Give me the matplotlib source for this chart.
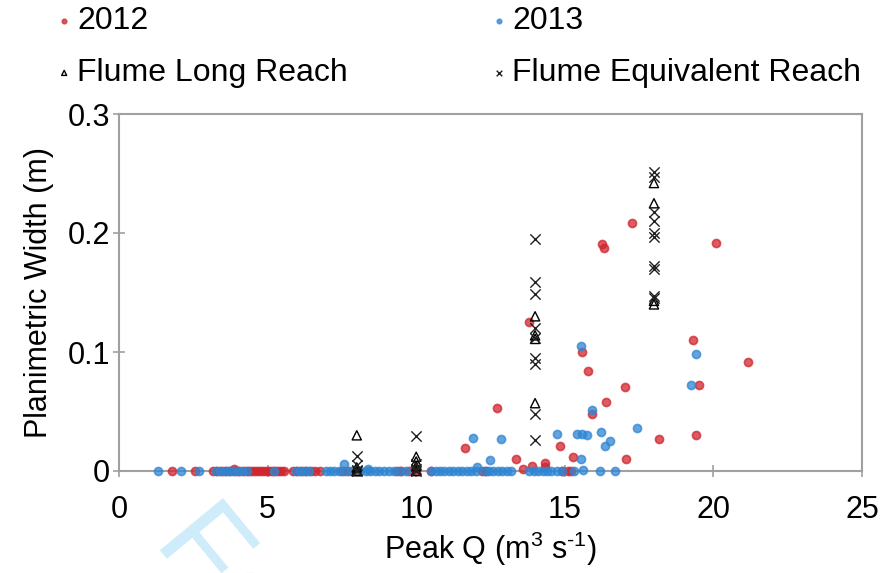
import matplotlib
matplotlib.use("Agg")
import matplotlib.pyplot as plt

plt.rcParams["font.family"] = ["Liberation Sans", "DejaVu Sans"]
plt.rcParams["mathtext.fontset"] = "custom"
plt.rcParams["mathtext.rm"] = "Liberation Sans"

# 2012 survey: peak discharge (m3/s) and planimetric width (m)
q_2012 = [1.8, 2.55, 3.15, 3.3, 3.45, 3.6, 3.75, 3.9, 4.05, 4.2, 4.35, 4.45,
          4.55, 4.65, 4.75, 4.85, 4.95, 5.05, 5.15, 5.25, 5.35, 5.45, 5.55,
          5.85, 6.0, 6.15, 6.3, 6.45, 6.6, 6.75, 7.5, 7.7, 8.0, 9.35, 9.5,
          9.75, 10.0, 10.5, 12.2, 12.35, 14.9, 15.1, 15.2,
          3.86, 11.65, 12.72, 13.37, 13.6, 13.9, 14.34, 14.34, 14.84, 15.27,
          15.92, 16.39, 17.05, 17.25, 16.25, 16.31, 13.81, 15.58, 15.79,
          17.04, 20.09, 19.32, 21.17, 19.53, 18.16, 19.41]
w_2012 = [0.0] * 43 + [
          0.002, 0.019, 0.053, 0.010, 0.002, 0.004, 0.007, 0.003, 0.021, 0.012,
          0.048, 0.058, 0.010, 0.208, 0.191, 0.187, 0.125, 0.100, 0.084,
          0.071, 0.192, 0.110, 0.092, 0.072, 0.027, 0.030]

# 2013 survey
q_2013 = [1.3, 2.1, 2.7, 3.25, 3.4, 3.55, 3.7, 3.85, 4.0, 4.15, 4.3, 5.2,
          5.95, 6.1, 6.25, 6.4, 6.95, 7.1, 7.25, 7.4, 7.6, 7.8, 8.1, 8.3,
          8.45, 8.6, 8.75, 8.9, 9.1, 9.25, 9.45, 9.65, 10.5, 10.65, 10.8,
          10.95, 11.1, 11.25, 11.4, 11.55, 11.7, 11.85, 12.0, 12.3, 12.45,
          12.6, 12.75, 12.9, 13.05, 13.2, 13.8, 13.95, 14.1, 14.25, 14.4,
          14.55, 14.75, 14.9, 15.3, 16.2, 16.7,
          7.56, 8.38, 11.9, 12.86, 12.47, 12.05, 14.75, 15.4, 15.57, 15.75,
          15.53, 15.62, 15.92, 16.22, 16.53, 16.35, 17.42, 15.53, 19.41, 19.23]
w_2013 = [0.0] * 61 + [
          0.006, 0.002, 0.028, 0.027, 0.009, 0.003, 0.031, 0.031, 0.031, 0.030,
          0.010, 0.001, 0.051, 0.033, 0.025, 0.021, 0.036, 0.105, 0.098, 0.072]

# Flume runs
q_long = [8, 8, 8, 8, 10, 10, 10, 10, 14, 14, 14, 14, 18, 18, 18, 18]
w_long = [0.030, 0.003, 0.0, 0.0, 0.012, 0.008, 0.004, 0.0,
          0.130, 0.114, 0.111, 0.057, 0.242, 0.225, 0.143, 0.140]

q_equiv = [8, 8, 8, 8, 10, 10, 10, 10,
           14, 14, 14, 14, 14, 14, 14, 14, 14,
           18, 18, 18, 18, 18, 18, 18, 18, 18, 18]
w_equiv = [0.013, 0.005, 0.001, 0.0, 0.029, 0.006, 0.002, 0.0,
           0.195, 0.159, 0.149, 0.120, 0.112, 0.095, 0.090, 0.048, 0.026,
           0.251, 0.247, 0.218, 0.210, 0.200, 0.197, 0.172, 0.170, 0.147, 0.145]

red = "#D0262E"
blue = "#2F86D3"
axis_grey = "#A0A0A0"
fs = 22

fig = plt.figure(figsize=(8.83, 5.73), dpi=100)
ax = fig.add_axes([119 / 883, 1 - 471 / 573, 743 / 883, 357 / 573])

h12 = ax.scatter(q_2012, w_2012, s=34, facecolor=red, edgecolor=red,
                 alpha=0.75, linewidth=1.2, clip_on=False, zorder=3)
h13 = ax.scatter(q_2013, w_2013, s=34, facecolor=blue, edgecolor=blue,
                 alpha=0.75, linewidth=1.2, clip_on=False, zorder=4)
hl = ax.scatter(q_long, w_long, s=44, marker="^", facecolor="none",
                edgecolor="black", linewidth=1.0, clip_on=False, zorder=5)
he = ax.scatter(q_equiv, w_equiv, s=55, marker="x", color="#202020",
                linewidth=1.0, clip_on=False, zorder=5)

ax.set_xlim(0, 25)
ax.set_ylim(0, 0.3)
ax.set_xticks([0, 5, 10, 15, 20, 25])
ax.set_yticks([0, 0.1, 0.2, 0.3])
ax.set_yticklabels(["0", "0.1", "0.2", "0.3"])

for sp in ax.spines.values():
    sp.set_color(axis_grey)
    sp.set_linewidth(1.5)
ax.tick_params(direction="inout", length=9, width=1.2, color=axis_grey,
               labelsize=fs)
ax.tick_params(axis="x", pad=13)
ax.tick_params(axis="y", pad=2)

ax.set_xlabel(r"Peak Q (m$^\mathregular{3}$ s$^\text{-1}$)",
              fontsize=fs, labelpad=3)
ax.set_ylabel("Planimetric Width (m)", fontsize=fs, labelpad=10)

# legend in two columns above the plot
leg_kw = dict(frameon=False, fontsize=23, markerscale=0.55, handlelength=0.4,
              handletextpad=0.2, labelspacing=0.7, borderaxespad=0,
              loc="upper left")
fig.legend([h12, hl], ["2012", "Flume Long Reach"],
           bbox_to_anchor=(45 / 883, 1.012), **leg_kw)
fig.legend([h13, he], ["2013", "Flume Equivalent Reach"],
           bbox_to_anchor=(480 / 883, 1.012), **leg_kw)

# faint review watermark
fig.text(153 / 883, 1 - 542 / 573, "For Peer Review", fontsize=86,
         color="#CFECFA", rotation=-50.5, rotation_mode="anchor",
         ha="left", va="baseline", zorder=0)

fig.savefig("out.png", dpi=100)
